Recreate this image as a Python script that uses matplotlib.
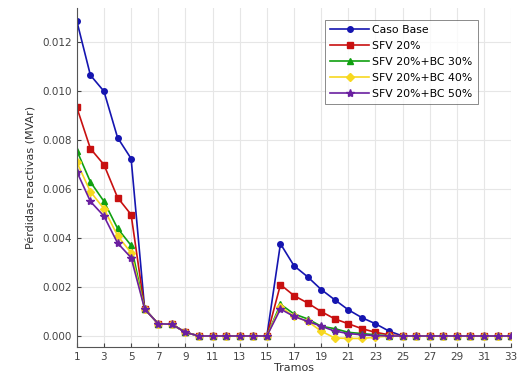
import numpy as np
import matplotlib.pyplot as plt

tramos = list(range(1, 34))

caso_base = [0.01287, 0.01066, 0.0100, 0.00811, 0.00725, 0.0011, 0.0005, 0.00048, 0.00015,
             0, 0, 0, 0, 0, 0,
             0.00377, 0.00287, 0.00242, 0.0019, 0.00148, 0.00107, 0.00075, 0.0005, 0.0002,
             0, 0, 0, 0, 0, 0, 0, 0, 0]
sfv20 = [0.00934, 0.00766, 0.0070, 0.00566, 0.00496, 0.0011, 0.0005, 0.00048, 0.00015,
         0, 0, 0, 0, 0, 0,
         0.0021, 0.00165, 0.00135, 0.0010, 0.0007, 0.0005, 0.0003, 0.00015, 0.00005,
         0, 0, 0, 0, 0, 0, 0, 0, 0]
bc30 = [0.00758, 0.0063, 0.0055, 0.0044, 0.0037, 0.0011, 0.0005, 0.00048, 0.00015,
        0, 0, 0, 0, 0, 0,
        0.0013, 0.0009, 0.0007, 0.0004, 0.0003, 0.00015, 0.0001, 0.00005, 0,
        0, 0, 0, 0, 0, 0, 0, 0, 0]
bc40 = [0.0071, 0.0059, 0.0052, 0.0041, 0.0034, 0.0011, 0.0005, 0.00048, 0.00015,
        0, 0, 0, 0, 0, 0,
        0.0012, 0.0008, 0.0006, 0.0002, -0.00008, -0.0001, -0.0001, -0.00005, 0,
        0, 0, 0, 0, 0, 0, 0, 0, 0]
bc50 = [0.00672, 0.0055, 0.0049, 0.0038, 0.0032, 0.0011, 0.0005, 0.00048, 0.00015,
        0, 0, 0, 0, 0, 0,
        0.0011, 0.0008, 0.0006, 0.0004, 0.0002, 0.0001, 0.00005, 0.00002, 0,
        0, 0, 0, 0, 0, 0, 0, 0, 0]

series = [
    ("Caso Base", caso_base, "#1515b0", "o"),
    ("SFV 20%", sfv20, "#c81010", "s"),
    ("SFV 20%+BC 30%", bc30, "#10a010", "^"),
    ("SFV 20%+BC 40%", bc40, "#f7d820", "D"),
    ("SFV 20%+BC 50%", bc50, "#6a1fa0", "*"),
]

fig = plt.figure(figsize=(5.19, 3.86), dpi=100)
ax = fig.add_axes([0.148, 0.101, 0.837, 0.878])

for name, vals, col, mk in series:
    ms = 6 if mk == "*" else 4
    ax.plot(tramos, vals, color=col, marker=mk, markersize=ms, linewidth=1.2,
            markerfacecolor=col, markeredgecolor=col, label=name)

ax.set_xlim(1, 33)
ax.set_ylim(-0.00045, 0.0134)
ax.set_xticks(range(1, 34, 2))
ax.set_yticks(np.arange(0, 0.0121, 0.002))
ax.yaxis.set_major_formatter(plt.FormatStrFormatter("%.3f"))
ax.grid(True, color="#e6e6e6", linewidth=0.8)
ax.set_axisbelow(True)
ax.tick_params(direction="in", labelsize=7.5, colors="#444444", length=3)
for s in ["top", "right"]:
    ax.spines[s].set_visible(False)
for s in ["left", "bottom"]:
    ax.spines[s].set_color("#555555")
    ax.spines[s].set_linewidth(0.8)

ax.set_xlabel("Tramos", fontsize=8, color="#333333", labelpad=1)
ax.set_ylabel("Pérdidas reactivas (MVAr)", fontsize=8, color="#333333")

leg = ax.legend(loc="upper left", bbox_to_anchor=(0.572, 0.965), fontsize=7.8,
                frameon=True, fancybox=False, edgecolor="#555555",
                handlelength=3.6, labelspacing=0.55, borderpad=0.45, handletextpad=0.3,
                borderaxespad=0)
leg.get_frame().set_linewidth(0.6)

fig.savefig("out.png", dpi=100)
